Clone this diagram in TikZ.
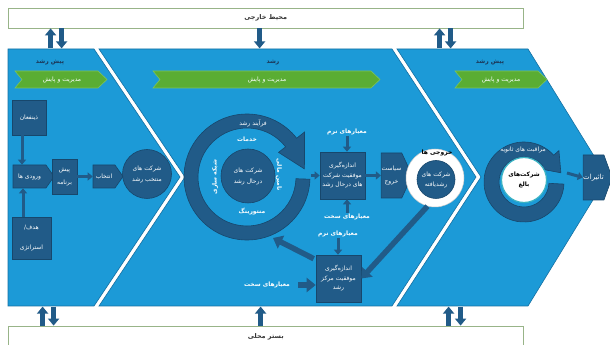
\documentclass[tikz,border=0pt]{standalone}
\usepackage{fontspec}
\usetikzlibrary{arrows.meta,shapes.symbols,calc}
\newfontfamily\fafont[Script=Arabic]{DejaVu Sans}
\TeXXeTstate=1
\newcommand\RL[1]{\beginR#1\endR}
\definecolor{panelblue}{HTML}{1C9AD7}
\definecolor{paneledge}{HTML}{1570A3}
\definecolor{darkbox}{HTML}{215B88}
\definecolor{darkedge}{HTML}{17476C}
\definecolor{leafgreen}{HTML}{5AAD33}
\definecolor{greenedge}{HTML}{7CC45A}
\definecolor{navytext}{HTML}{1B3556}
\definecolor{frameedge}{HTML}{98B488}
\definecolor{tealring}{HTML}{3BB3C3}
\tikzset{
  txt/.style={font=\fafont\fontsize{6}{9.5}\selectfont, text=white, align=center, inner sep=0pt},
  btxt/.style={font=\fafont\bfseries\fontsize{6}{7}\selectfont, text=white, align=center, inner sep=0pt},
  dbox/.style={txt, draw=darkedge, fill=darkbox, line width=0.6pt},
  dsig/.style={dbox, signal, signal to=east},
  dcirc/.style={dbox, circle},
  frame/.style={draw=frameedge, fill=white, line width=0.8pt, font=\fafont\bfseries\fontsize{6.5}{7}\selectfont, text=black!80, inner sep=0pt},
  varr/.style={draw=darkbox, line width=4.5pt, -{Triangle[width=11pt,length=7pt]}},
  sarr/.style={draw=darkbox, line width=3pt, -{Triangle[width=8pt,length=5pt]}},
  barr/.style={draw=darkbox, line width=5.5pt, -{Triangle[width=14pt,length=9pt]}},
  panel/.style={fill=panelblue, draw=paneledge, line width=0.6pt},
  leaf/.style={fill=leafgreen, draw=greenedge, line width=0.6pt},
  plabel/.style={font=\fafont\bfseries\fontsize{6}{7}\selectfont, text=navytext, inner sep=0pt},
  ringfill/.style={fill=darkbox, draw=darkedge, line width=0.6pt},
}
\begin{document}
\begin{tikzpicture}[x=1pt,y=1pt]
\clip (0,0) rectangle (610,345);
\fill[white] (0,0) rectangle (610,345);

% frames
\node[frame, minimum width=514.5pt, minimum height=20pt] (topbox) at (265.75,327) {\RL{محیط خارجی}};
\node[frame, minimum width=514.5pt, minimum height=22pt] (botbox) at (265.75,8) {\RL{بستر محلی}};

% panels
\path[panel] (8,296) -- (94,296) -- (180,168) -- (94,39) -- (8,39) -- cycle;
\path[panel] (99,296) -- (392,296) -- (476,168) -- (392,39) -- (99,39) -- (185,168) -- cycle;
\path[panel] (397,296) -- (528,296) -- (607,168) -- (528,39) -- (397,39) -- (481,168) -- cycle;

\node[plabel] (p1lab) at (50,283) {\RL{پیش رشد}};
\node[plabel] (p2lab) at (273,283) {\RL{رشد}};
\node[plabel] (p3lab) at (490,283) {\RL{پیش رشد}};

% green chevrons
\path[leaf] (15,274) -- (98,274) -- (107,265.5) -- (98,257) -- (15,257) -- (22,265.5) -- cycle;
\path[leaf] (153,274) -- (371,274) -- (380,265.5) -- (371,257) -- (153,257) -- (160,265.5) -- cycle;
\path[leaf] (455,274) -- (538,274) -- (547,265.5) -- (538,257) -- (455,257) -- (462,265.5) -- cycle;
\node[txt] (m1) at (62,265.5) {\RL{مدیریت و پایش}};
\node[txt] (m2) at (267,265.5) {\RL{مدیریت و پایش}};
\node[txt] (m3) at (501,265.5) {\RL{مدیریت و پایش}};

% top and bottom exchange arrows
\draw[varr] ($(topbox.south west)+(42.5,-20)$) -- ($(topbox.south west)+(42.5,0)$);
\draw[varr] ($(topbox.south west)+(53.5,0)$) -- ($(topbox.south west)+(53.5,-20)$);
\draw[varr] ($(topbox.south west)+(251.5,0)$) -- ($(topbox.south west)+(251.5,-20)$);
\draw[varr] ($(topbox.south west)+(431.5,-20)$) -- ($(topbox.south west)+(431.5,0)$);
\draw[varr] ($(topbox.south west)+(442.5,0)$) -- ($(topbox.south west)+(442.5,-20)$);
\draw[varr] ($(botbox.north west)+(34.5,0)$) -- ($(botbox.north west)+(34.5,19)$);
\draw[varr] ($(botbox.north west)+(45.5,19)$) -- ($(botbox.north west)+(45.5,0)$);
\draw[varr] ($(botbox.north west)+(252.5,0)$) -- ($(botbox.north west)+(252.5,19)$);
\draw[varr] ($(botbox.north west)+(440.5,0)$) -- ($(botbox.north west)+(440.5,19)$);
\draw[varr] ($(botbox.north west)+(452.5,19)$) -- ($(botbox.north west)+(452.5,0)$);

% panel 1
\node[dbox, minimum width=34pt, minimum height=35pt] (stake) at (29,227.5) {\RL{ذینفعان}};
\node[dsig, signal pointer angle=110, minimum width=41pt, minimum height=23pt] (inputs) at (29.5,168.5) {\RL{ورودی ها}};
\node[dbox, minimum width=25pt, minimum height=35pt, font=\fafont\fontsize{6}{13}\selectfont] (preprog) at (64.5,168.5) {\RL{پیش}\\\RL{برنامه}};
\node[dsig, signal pointer angle=110, minimum width=30pt, minimum height=23pt] (select) at (104,168.5) {\RL{انتخاب}};
\node[dcirc, minimum size=49pt, font=\fafont\fontsize{6}{11}\selectfont] (chosen) at (147,171) {\RL{شرکت های}\\\RL{منتخب رشد}};
\node[dbox, minimum width=39pt, minimum height=42pt, font=\fafont\fontsize{6}{20}\selectfont] (goal) at (31.5,107) {\RL{هدف/}\\\RL{استراتژی}};
\draw[sarr] ($(stake.south)+(-7,0)$) -- ($(inputs.north)+(-7.5,0)$);
\draw[sarr] ($(goal.north)+(-8.5,0)$) -- ($(inputs.south)+(-6.5,0)$);
\draw[sarr] (preprog.east) -- (select.west);

% panel 2 : growth cycle
\coordinate (r1) at (247,168);
\path[ringfill] ($(r1)+(-2:63pt)$) arc[start angle=-2, end angle=-322, radius=63pt]
  -- ($(r1)+(38:73pt)$) -- ($(r1)+(8:58pt)$) -- ($(r1)+(38:40pt)$) -- ($(r1)+(38:49pt)$)
  arc[start angle=38, end angle=358, radius=49pt] -- cycle;
\node[dcirc, minimum size=54pt, font=\fafont\fontsize{6}{11}\selectfont] (growing) at (248,169) {\RL{شرکت های}\\\RL{درحال رشد}};
\node[txt] (proc) at (253,222) {\RL{فرآیند رشد}};
\node[btxt] (serv) at (247,206) {\RL{خدمات}};
\node[btxt, rotate=90] (netw) at (215,168) {\RL{شبکه سازی}};
\node[btxt, rotate=-90] (fund) at (279,170) {\RL{تامین مالی}};
\node[btxt] (ment) at (252,133) {\RL{منتورینگ}};
\coordinate (ringE) at (311,169.5);
\coordinate (ringSE) at (273,107);

\node[dbox, minimum width=45pt, minimum height=47pt] (meas1) at (342.5,169.5) {\RL{اندازه‌گیری}\\\RL{موفقیت شرکت}\\\RL{های درحال رشد}};
\node[btxt] (soft1) at (347,213) {\RL{معیارهای نرم}};
\node[btxt] (hard1) at (347,128) {\RL{معیارهای سخت}};
\draw[sarr] (ringE) -- (meas1.west);
\draw[sarr, shorten <=1pt] (soft1.south) -- (soft1.south |- meas1.north);
\draw[sarr, shorten <=1pt] (hard1.north) -- (hard1.north |- meas1.south);

\node[dsig, signal pointer angle=130, minimum width=31pt, minimum height=45pt, font=\fafont\fontsize{6}{13}\selectfont] (exit) at (391.5,169.5) {\RL{سیاست}\\\RL{خروج}};
\draw[sarr] (meas1.east) -- (exit.west);

\node[circle, fill=white, draw=gray!40, line width=0.5pt, minimum size=58pt, inner sep=0pt] (outw) at (435,167) {};
\node[dcirc, minimum size=38pt, font=\fafont\fontsize{6}{10}\selectfont] (outc) at (436,165.5) {\RL{شرکت های}\\\RL{رشدیافته}};
\node[plabel, text=black] (outlab) at (437,192) {\RL{خروجی ها}};

\node[dbox, minimum width=45pt, minimum height=47pt] (meas2) at (338.5,66.5) {\RL{اندازه‌گیری}\\\RL{موفقیت مرکز}\\\RL{رشد}};
\node[btxt] (soft2) at (338,111) {\RL{معیارهای نرم}};
\node[btxt] (hard2) at (267,60) {\RL{معیارهای سخت}};
\draw[sarr, shorten <=1pt] (soft2.south) -- (soft2.south |- meas2.north);
\draw[barr, shorten <=8pt] (hard2.east) -- (hard2.east -| meas2.west);
\draw[barr] ($(meas2.north west)+(-2,-4)$) -- (ringSE);
\draw[barr] (outw.-105) -- (meas2.east);

% panel 3
\coordinate (r2) at (524,163);
\path[ringfill] ($(r2)+(-3:40pt)$) arc[start angle=-3, end angle=-318, radius=40pt]
  -- ($(r2)+(42:47pt)$) -- ($(r2)+(14:38pt)$) -- ($(r2)+(42:20pt)$) -- ($(r2)+(42:25pt)$)
  arc[start angle=42, end angle=357, radius=25pt] -- cycle;
\node[circle, fill=white, draw=tealring, line width=1.2pt, minimum size=45pt, inner sep=0pt, align=center, text=black, font=\fafont\bfseries\fontsize{6}{10}\selectfont] (mature) at (524,165) {\RL{شرکت‌های}\\\RL{بالغ}};
\node[txt] (care) at (523,195) {\RL{مراقبت های ثانویه}};
\coordinate (ring2E) at (567,172);
\node[dsig, signal pointer angle=140, minimum width=29pt, minimum height=45pt, font=\fafont\fontsize{7}{8}\selectfont] (impact) at (593.5,167.5) {\RL{تاثیرات}};
\draw[sarr] (ring2E) -- (impact.west);
\end{tikzpicture}
\end{document}
